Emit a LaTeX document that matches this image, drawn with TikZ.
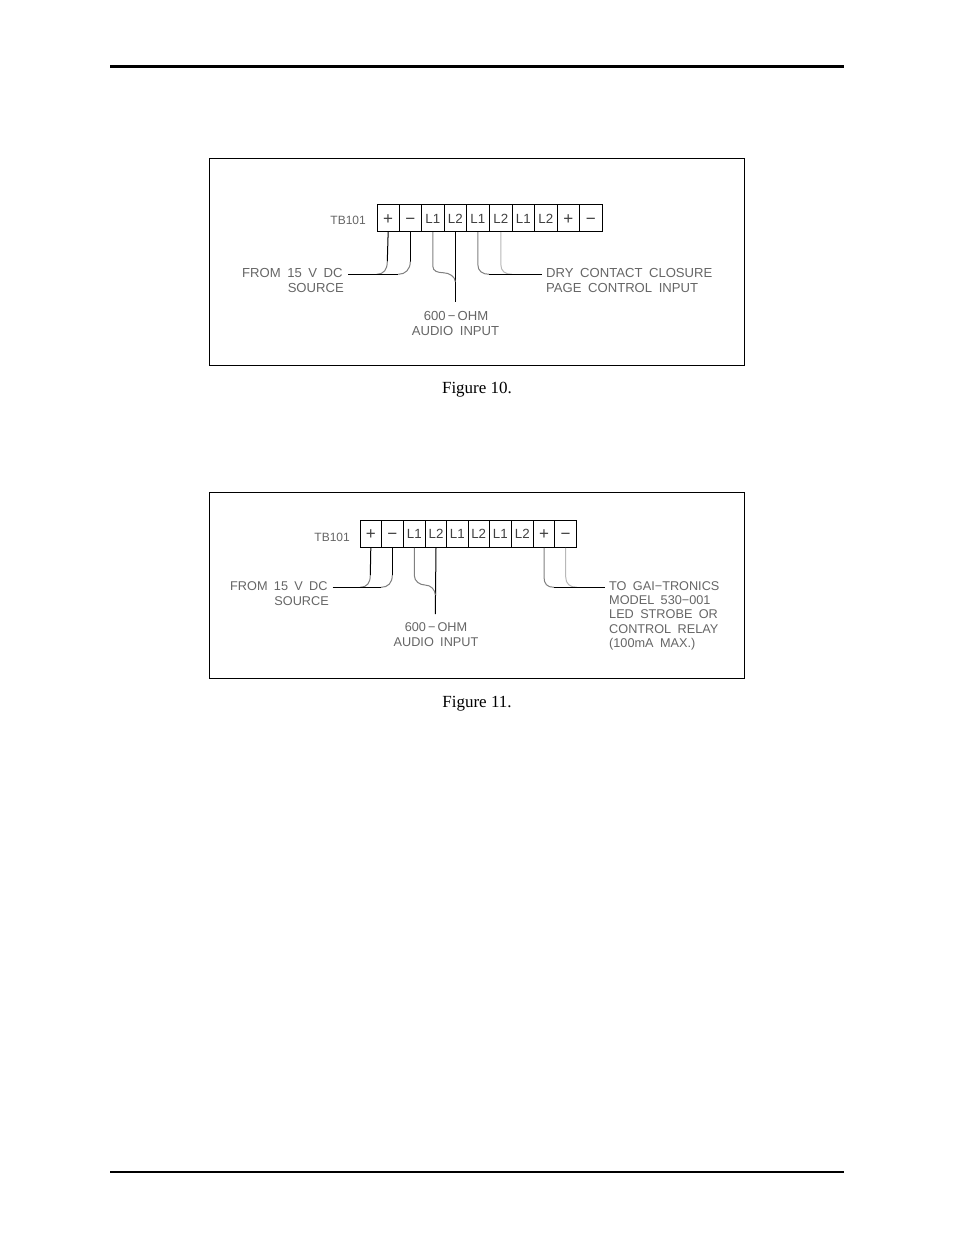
\documentclass[tikz,border=0pt]{standalone}
\usepackage{fontspec}
\setmainfont{Liberation Serif}
\newfontfamily\cadfont[WordSpace=1.8]{Liberation Sans}
\definecolor{cadtext}{gray}{0.4}
\newcommand{\bigsym}[1]{{\fontsize{17}{17}\selectfont\raisebox{-1pt}{#1}}}
\tikzset{
  rule/.style={black},
  frame/.style={draw=black,line width=0.7pt},
  cell/.style={draw=black,line width=0.9pt,minimum height=27.5pt,inner sep=0pt,text height=10pt,text depth=0pt,font=\cadfont\fontsize{13.3}{14}\selectfont,text=black!75},
  wire/.style={line width=1pt,black},
  wiregray/.style={line width=1pt,black!50},
  wirepale/.style={line width=1pt,black!28},
  cad/.style={inner sep=0pt,font=\cadfont\fontsize{13.1}{14}\selectfont,text=cadtext},
  cadb/.style={inner sep=0pt,font=\cadfont\fontsize{12.7}{14}\selectfont,text=cadtext},
  tbtag/.style={inner sep=0pt,font=\cadfont\fontsize{12}{14}\selectfont,text=cadtext},
  caption/.style={inner sep=0pt,anchor=base,font=\fontsize{17}{20}\selectfont},
}
\begin{document}
\begin{tikzpicture}[x=1pt,y=-1pt]
\useasboundingbox (0,0) rectangle (954,1235);
\fill[white] (0,0) rectangle (954,1235);
% page rules
\coordinate (rta) at (110,66.5); \coordinate (rtb) at (844,66.5);
\coordinate (rba) at (110,1172); \coordinate (rbb) at (844,1172);
\draw[rule,line width=2.8pt] (rta) -- (rtb);
\draw[rule,line width=1.8pt] (rba) -- (rbb);
% frames
\node[frame,minimum width=535.5pt,minimum height=207.5pt,inner sep=0pt] (frameA) at (477,262) {};
\node[frame,minimum width=535.5pt,minimum height=186pt,inner sep=0pt] (frameB) at (477,585) {};
\node[caption] (capA) at (477,393) {Figure 10.};
\node[caption] (capB) at (477,707) {Figure 11.};

% ---------- Figure 10 ----------
\node[tbtag,anchor=base east] (tbA) at (366,224) {TB101};
\foreach \n/\l/\r/\t in {a1/377/399.3/\bigsym{+},a2/399.3/421.3/\bigsym{−},a3/421.3/444.3/L1,a4/444.3/466.3/L2,a5/466.3/489.3/L1,a6/489.3/512.3/L2,a7/512.3/534.3/L1,a8/534.3/557.3/L2,a9/557.3/579.3/\bigsym{+},a10/579.3/602.5/\bigsym{−}}{
  \pgfmathsetmacro\cx{(\l+\r)/2}\pgfmathsetmacro\cw{\r-\l}
  \node[cell,minimum width=\cw pt] (\n) at (\cx,218) {\t};
}
\coordinate (aL) at (376.7,274.3);
\coordinate (aM) at (398.3,274.3);
\coordinate (aS) at (348.3,274.3);
\coordinate (aLb) at (387.3,261.5);
\coordinate (aMb) at (410.3,261.5);
\draw[wire] (a1.south) -- (aLb);
\draw[wire] (a2.south) -- (aMb);
\draw[wiregray] (aLb) .. controls +(0,8) and +(7,0) .. (aL);
\draw[wiregray] (aMb) .. controls +(0,8) and +(7,0) .. (aM);
\draw[wire] (aS) -- (aM);
\coordinate (aAud) at (455.3,301.7);
\coordinate (aAudJ) at (455.3,281.7);
\coordinate (aAudK) at (443,272.7);
\draw[wire] (a4.south) -- (aAud);
\draw[wiregray] (a3.south) -- ++(0,34) .. controls +(0,5) and +(-5,0) .. (aAudK) .. controls +(6,0) and +(0,-5) .. (aAudJ);
\coordinate (aD1) at (489.3,274.3);
\coordinate (aD2) at (512,274.3);
\coordinate (aDe) at (542.3,274.3);
\draw[wiregray] (a5.south) -- ++(0,32) .. controls +(0,7) and +(-7,0) .. (aD1);
\draw[wirepale] (a6.south) -- ++(0,32) .. controls +(0,7) and +(-7,0) .. (aD2);
\draw[wire] (aD1) -- (aDe);
\node[cad,anchor=base west] (aFrom) at (242,277) {FROM 15 V DC};
\node[cad,anchor=base east] (aSrc) at (344,292) {SOURCE};
\node[cad,anchor=base] (a600) at (456,320) {600\,−\,OHM};
\node[cad,anchor=base] (aInp) at (455.5,335) {AUDIO INPUT};
\node[cad,anchor=base west] (aDry) at (546,277) {DRY CONTACT CLOSURE};
\node[cad,anchor=base west] (aPage) at (546,292) {PAGE CONTROL INPUT};

% ---------- Figure 11 ----------
\node[tbtag,anchor=base east] (tbB) at (350,541) {TB101};
\foreach \n/\l/\r/\t in {b1/360.3/381.3/\bigsym{+},b2/381.3/403.3/\bigsym{−},b3/403.3/425.3/L1,b4/425.3/446.7/L2,b5/446.7/468/L1,b6/468/489.3/L2,b7/489.3/511.3/L1,b8/511.3/533.3/L2,b9/533.3/554.7/\bigsym{+},b10/554.7/576.7/\bigsym{−}}{
  \pgfmathsetmacro\cx{(\l+\r)/2}\pgfmathsetmacro\cw{\r-\l}
  \node[cell,minimum width=\cw pt] (\n) at (\cx,533.7) {\t};
}
\coordinate (bL) at (360,587.3);
\coordinate (bM) at (381,587.3);
\coordinate (bS) at (332.7,587.3);
\coordinate (bLb) at (370.3,575);
\coordinate (bMb) at (392.3,575);
\draw[wire] (b1.south) -- (bLb);
\draw[wire] (b2.south) -- (bMb);
\draw[wiregray] (bLb) .. controls +(0,8) and +(7,0) .. (bL);
\draw[wiregray] (bMb) .. controls +(0,8) and +(7,0) .. (bM);
\draw[wire] (bS) -- (bM);
\coordinate (bAud) at (435.3,614);
\coordinate (bAudJ) at (435.3,595);
\coordinate (bAudK) at (425,585);
\draw[wire] (b4.south) -- (bAud);
\draw[wiregray] (b3.south) -- ++(0,27.5) .. controls +(0,6) and +(-5,0) .. (bAudK) .. controls +(6,0) and +(0,-5) .. (bAudJ);
\coordinate (bR1) at (554,587.3);
\coordinate (bR2) at (577,587.3);
\coordinate (bRe) at (605,587.3);
\draw[wiregray] (b9.south) -- ++(0,29) .. controls +(0,7) and +(-7,0) .. (bR1);
\draw[wirepale] (b10.south) -- ++(0,29) .. controls +(0,7) and +(-7,0) .. (bR2);
\draw[wire] (bR1) -- (bRe);
\node[cadb,anchor=base west] (bFrom) at (230,590) {FROM 15 V DC};
\node[cadb,anchor=base east] (bSrc) at (329,605) {SOURCE};
\node[cadb,anchor=base] (b600) at (436,631) {600\,−\,OHM};
\node[cadb,anchor=base] (bInp) at (436,646) {AUDIO INPUT};
\node[cadb,anchor=base west] (bTo) at (609,590) {TO GAI−TRONICS};
\node[cadb,anchor=base west] (bMod) at (609,604.5) {MODEL 530−001};
\node[cadb,anchor=base west] (bLed) at (609,618.5) {LED STROBE OR};
\node[cadb,anchor=base west] (bCtl) at (609,633) {CONTROL RELAY};
\node[cadb,anchor=base west] (bMax) at (609,647) {(100mA MAX.)};
\end{tikzpicture}
\end{document}
